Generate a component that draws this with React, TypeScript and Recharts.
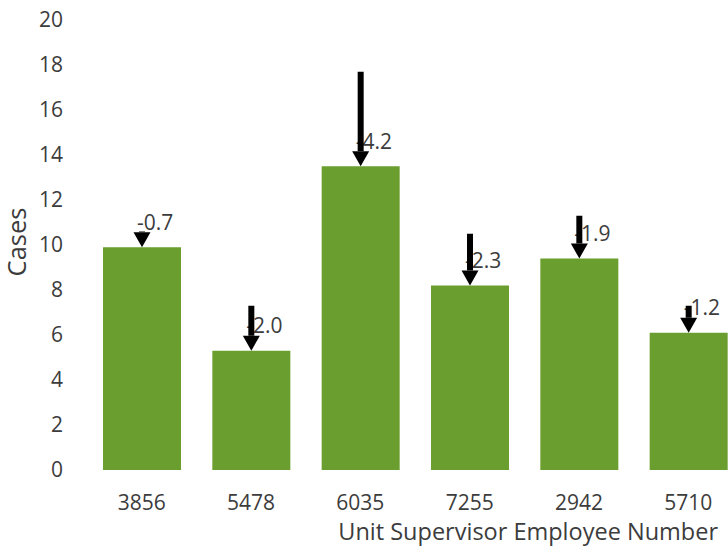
import { Bar, BarChart, XAxis, YAxis } from 'recharts';

const supervisors = ['3856', '5478', '6035', '7255', '2942', '5710'];
const cases = [9.9, 5.3, 13.5, 8.2, 9.4, 6.1];
const changes = [-0.7, -2.0, -4.2, -2.3, -1.9, -1.2];
const yTicks = [0, 2, 4, 6, 8, 10, 12, 14, 16, 18, 20];

const data = supervisors.map((id, i) => ({
  id,
  cases: cases[i],
  drop: -changes[i],
  change: changes[i],
}));

const TEXT = '#3c3c3c';

// arrow from the previous level down to the bar top, with the change label
const ChangeArrow = (props: any) => {
  const { x, y, width, height, payload } = props;
  const cx = x + width / 2;
  const tip = y + height;
  const headH = 15;
  const headW = 17;
  const shaftTop = Math.min(y, tip - headH);
  return (
    <g>
      <text x={cx - 5} y={tip - 17.5} fill={TEXT} fontSize={21}>
        {payload.change.toFixed(1)}
      </text>
      {tip - headH > shaftTop && (
        <rect x={cx - 3} y={shaftTop} width={6} height={tip - headH - shaftTop} fill="#000" />
      )}
      <polygon
        points={`${cx - headW / 2},${tip - headH} ${cx + headW / 2},${tip - headH} ${cx},${tip}`}
        fill="#000"
      />
    </g>
  );
};

export default function App() {
  return (
    <div
      style={{
        position: 'absolute',
        left: 0,
        top: 0,
        width: 728,
        height: 558,
        overflow: 'hidden',
        background: '#fff',
        fontFamily: '"Open Sans", sans-serif',
      }}
    >
      <BarChart width={760} height={558} data={data} margin={{ top: 20, right: 17, left: 0, bottom: 0 }}>
        <XAxis
          dataKey="id"
          axisLine={false}
          tickLine={false}
          tickSize={0}
          tickMargin={25}
          interval={0}
          height={88}
          tick={{ fill: TEXT, fontSize: 21 }}
          label={{
            value: 'Unit Supervisor Employee Number',
            position: 'insideBottomRight',
            offset: 0,
            dx: -25,
            dy: -18,
            fill: TEXT,
            fontSize: 23.5,
          }}
        />
        <YAxis
          width={87}
          domain={[0, 20]}
          ticks={yTicks}
          axisLine={false}
          tickLine={false}
          tickSize={0}
          tickMargin={24}
          tick={{ fill: TEXT, fontSize: 21 }}
          label={{
            value: 'Cases',
            angle: -90,
            position: 'center',
            dx: -27,
            dy: -3,
            fill: TEXT,
            fontSize: 25.5,
          }}
        />
        <Bar dataKey="cases" stackId="a" fill="#6A9E2E" barSize={78} isAnimationActive={false} />
        <Bar dataKey="drop" stackId="a" fill="none" barSize={78} shape={ChangeArrow} isAnimationActive={false} />
      </BarChart>
    </div>
  );
}
